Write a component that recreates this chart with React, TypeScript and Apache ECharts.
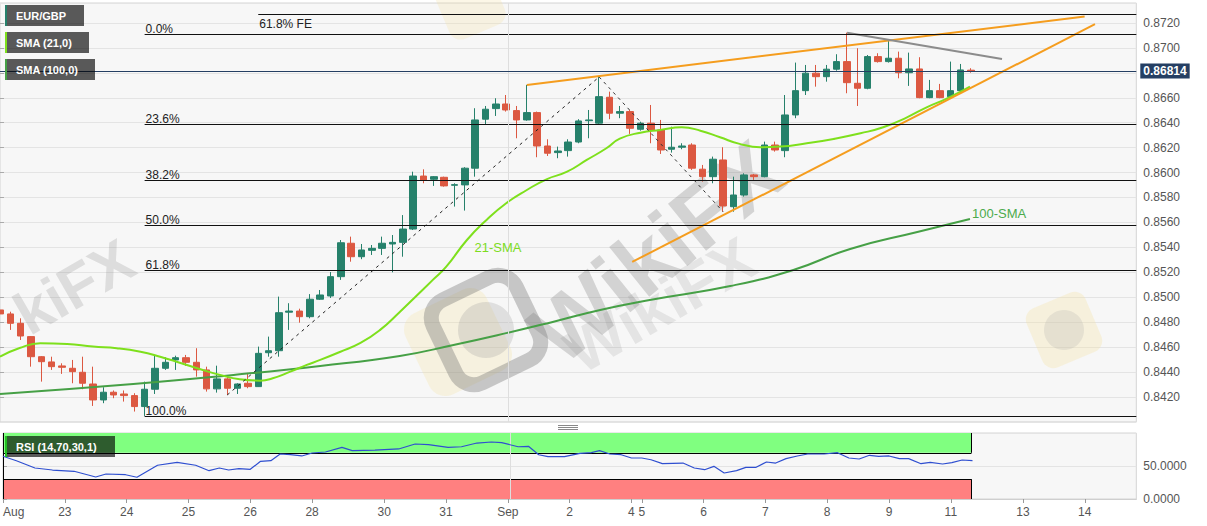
import React, { useEffect, useRef } from "react";
import * as echarts from "echarts";

// ---- data (4-hour candles, index 0 = 22 Aug) ----
const candleOpen = [
  0.84898, 0.84866, 0.84791, 0.84684, 0.84523, 0.84481, 0.84449, 0.8443, 0.84398, 0.84304,
  0.84176, 0.84238, 0.84224, 0.84211, 0.84123, 0.84262, 0.8443, 0.84497, 0.84515, 0.84478,
  0.84417, 0.84265, 0.84345, 0.8427, 0.8431, 0.84283, 0.84555, 0.84571, 0.8488, 0.84889,
  0.84844, 0.84984, 0.8501, 0.85165, 0.85433, 0.85325, 0.85376, 0.85392, 0.85427, 0.8544,
  0.85547, 0.85972, 0.85946, 0.85962, 0.85898, 0.85901, 0.86035, 0.86428, 0.86513, 0.8655,
  0.86497, 0.86422, 0.86481, 0.86213, 0.8616, 0.86176, 0.86245, 0.86416, 0.86396, 0.86604,
  0.86476, 0.86489, 0.86347, 0.86396, 0.86342, 0.86187, 0.86203, 0.86221, 0.86027, 0.85967,
  0.86101, 0.85726, 0.8582, 0.85981, 0.85967, 0.86221, 0.86176, 0.86462, 0.86657, 0.86797,
  0.86769, 0.86829, 0.8689, 0.86716, 0.86676, 0.8693, 0.8689, 0.86917, 0.86801, 0.86831,
  0.86601, 0.86657, 0.86609, 0.86657, 0.86821,
];
const candleClose = [
  0.84866, 0.84791, 0.84689, 0.84523, 0.84483, 0.84443, 0.84438, 0.84403, 0.8431, 0.84176,
  0.84238, 0.84216, 0.84211, 0.84123, 0.84262, 0.8443, 0.84478, 0.84515, 0.84478, 0.84417,
  0.84265, 0.84345, 0.8427, 0.84304, 0.84283, 0.8455, 0.84571, 0.84876, 0.84889, 0.84844,
  0.84984, 0.85018, 0.85165, 0.85437, 0.85325, 0.85379, 0.85392, 0.85433, 0.8544, 0.85547,
  0.85972, 0.8594, 0.85967, 0.85893, 0.85903, 0.86035, 0.86422, 0.86508, 0.8655, 0.86502,
  0.86422, 0.86481, 0.86213, 0.86155, 0.86173, 0.86245, 0.86414, 0.86422, 0.86609, 0.86476,
  0.86489, 0.86355, 0.86396, 0.86342, 0.86181, 0.86203, 0.86213, 0.86035, 0.85967, 0.86107,
  0.85732, 0.8582, 0.85981, 0.85967, 0.86221, 0.86181, 0.86462, 0.86657, 0.86797, 0.86769,
  0.86829, 0.8689, 0.86721, 0.86676, 0.8693, 0.8689, 0.86917, 0.86801, 0.86831, 0.86601,
  0.86657, 0.86601, 0.86657, 0.86823, 0.86814,
];
const candleLow = [
  0.84834, 0.84738, 0.84657, 0.84443, 0.84323, 0.84417, 0.84385, 0.8431, 0.84262, 0.84128,
  0.8415, 0.8419, 0.84163, 0.84083, 0.84048, 0.84224, 0.84417, 0.84417, 0.84449, 0.84363,
  0.84243, 0.84235, 0.84216, 0.84224, 0.8427, 0.8428, 0.84523, 0.84523, 0.84738, 0.84796,
  0.84831, 0.84978, 0.84994, 0.85139, 0.85285, 0.85305, 0.85339, 0.85339, 0.852, 0.85325,
  0.85539, 0.85914, 0.85893, 0.85887, 0.85727, 0.85695, 0.85967, 0.86382, 0.86454, 0.86489,
  0.86275, 0.86416, 0.86123, 0.86133, 0.86115, 0.86128, 0.86235, 0.86275, 0.86382, 0.86428,
  0.86436, 0.8631, 0.86336, 0.86235, 0.86149, 0.8616, 0.86187, 0.86021, 0.85927, 0.85914,
  0.85686, 0.85686, 0.85807, 0.85941, 0.85962, 0.86168, 0.86123, 0.86436, 0.86622, 0.86689,
  0.86729, 0.86817, 0.86636, 0.86534, 0.86668, 0.86882, 0.86882, 0.86756, 0.86695, 0.86596,
  0.86596, 0.86596, 0.86596, 0.86636, 0.86801,
];
const candleHigh = [
  0.8493, 0.84884, 0.84831, 0.84689, 0.84528, 0.84523, 0.8447, 0.84497, 0.84523, 0.84443,
  0.84278, 0.84252, 0.84252, 0.8423, 0.84323, 0.84537, 0.84518, 0.84531, 0.84537, 0.84591,
  0.84443, 0.84451, 0.84363, 0.8431, 0.84388, 0.84604, 0.84684, 0.85005, 0.84952, 0.84908,
  0.85025, 0.85058, 0.85202, 0.85459, 0.85486, 0.85427, 0.85419, 0.85486, 0.85499, 0.85659,
  0.86007, 0.86026, 0.85972, 0.85967, 0.85914, 0.86043, 0.86516, 0.86534, 0.86596, 0.86622,
  0.86534, 0.86703, 0.86489, 0.86267, 0.86208, 0.86267, 0.86428, 0.86502, 0.86767, 0.86649,
  0.86534, 0.86502, 0.86408, 0.86542, 0.86422, 0.86368, 0.86235, 0.86235, 0.86061, 0.86128,
  0.86203, 0.85967, 0.85994, 0.85989, 0.86248, 0.86248, 0.86622, 0.86882, 0.86863, 0.86863,
  0.86863, 0.86949, 0.87122, 0.86997, 0.86943, 0.86957, 0.87064, 0.8697, 0.86962, 0.86925,
  0.86743, 0.86711, 0.8689, 0.86871, 0.86837,
];

const sma21 = [
  [0, 0.84523], [1.9, 0.84593], [3.9, 0.84631], [6.5, 0.84625], [9, 0.84604], [11.3, 0.84591],
  [13.6, 0.84563], [15.5, 0.84523], [17.4, 0.84475], [19.4, 0.84422], [21.3, 0.84377],
  [23.2, 0.84342], [25.2, 0.84331], [26.4, 0.8435], [28.1, 0.84403], [29.7, 0.84457],
  [31, 0.84497], [32.9, 0.84561], [34.9, 0.84633], [36.8, 0.84738], [38.7, 0.84882],
  [40.2, 0.85002], [41.9, 0.85139], [43.2, 0.85245], [45.2, 0.85459], [47.1, 0.8562],
  [49, 0.85754], [51, 0.8586], [52.9, 0.85946], [54.9, 0.86007], [56.8, 0.86101],
  [58.7, 0.86195], [60, 0.86272], [62, 0.8632], [63.9, 0.86342], [66, 0.86363],
  [67.8, 0.86336], [69.7, 0.86283], [71.6, 0.8623], [73.6, 0.86203], [75.5, 0.86208],
  [78.1, 0.86235], [80.7, 0.8627], [83.3, 0.86315], [85.5, 0.86363], [87.8, 0.86443],
  [89.7, 0.86523], [91.6, 0.86591], [93.9, 0.86689],
];
const sma100 = [
  [0, 0.84224], [12.9, 0.84304], [22.6, 0.84377], [31, 0.84449], [38.7, 0.84529],
  [43.9, 0.84617], [49.1, 0.84714], [53.5, 0.84802], [58.1, 0.84898], [62.9, 0.84978],
  [70.7, 0.8509], [76.8, 0.85219], [82.3, 0.85387], [88.8, 0.85523], [93.9, 0.85627],
];
const rsi = [
  [0, 64.7], [1.3, 58.0], [3.1, 47.0], [4.8, 43.9], [6.9, 42.0], [9, 33.3], [10, 37.9],
  [11.9, 36.8], [13, 32.9], [15, 51.1], [16.9, 55.6], [18.7, 51.1], [20, 42.9], [21, 47.0],
  [21.9, 43.9], [22.9, 45.9], [24, 45.0], [25, 57.1], [26, 58.0], [26.9, 68.2], [27.9, 67.1],
  [29, 65.2], [30, 69.7], [31.3, 71.2], [32.9, 78.3], [33.9, 73.2], [36.1, 74.2], [38.4, 75.8],
  [40, 83.3], [41.3, 82.3], [43.2, 78.3], [44.5, 79.2], [46, 84.8], [47.4, 86.4], [48.4, 85.3],
  [50, 79.2], [51, 79.8], [52, 67.1], [52.9, 64.1], [54.5, 64.1], [56, 69.2], [57.1, 70.2],
  [57.9, 73.2], [58.9, 68.2], [60, 67.1], [61, 62.1], [62, 62.1], [62.9, 59.5], [64, 53.5],
  [66, 54.5], [67.1, 47.0], [68.1, 44.4], [69, 49.5], [70, 39.4], [71.2, 42.9], [72.1, 48.0],
  [73.1, 48.0], [74.1, 56.1], [75, 54.5], [76, 61.1], [77.1, 65.2], [78.1, 68.2], [79.7, 68.2],
  [81, 70.2], [82.1, 62.1], [83.1, 60.6], [84.1, 66.2], [85, 64.7], [86, 65.2], [87, 61.1],
  [87.9, 61.1], [89.1, 53.5], [90, 55.6], [91.2, 53.0], [92.1, 55.0], [93.1, 59.1], [94.1, 58.0],
];

const dayTicks = [0, 6, 12, 18, 24, 30, 37, 43, 49, 55, 61, 62, 68, 74, 80, 86, 92, 99, 105];
const dayLabels = ["Aug", "23", "24", "25", "26", "28", "30", "31", "Sep", "2", "4", "5", "6", "7", "8", "9", "11", "13", "14"];

const fibLevels = [0.87109, 0.86387, 0.8594, 0.85579, 0.85217, 0.84048];
const fibNames = ["0.0%", "23.6%", "38.2%", "50.0%", "61.8%", "100.0%"];
const fibStart = 14;
const fibExtLevel = 0.8727;
const fibExtName = "61.8% FE";
const fibExtStart = 25;
const lastPrice = 0.86814;
const hiddenPriceTick = 0.868; // covered by the last-price tag in the reference
const monthStart = 49.2;

const upperChannel = [[51, 0.86703], [105, 0.87251]];
const lowerChannel = [[61.2, 0.85283], [106, 0.8719]];
const resistanceLine = [[82, 0.87122], [97, 0.86911]];
const swingUp = [[22, 0.84216], [58, 0.86767]];
const swingDown = [[58, 0.86767], [70, 0.85686]];

const rsiOverbought = 70;
const rsiOversold = 30;
const rsiEnd = 94;

const FONT = '"Liberation Sans", Arial, Helvetica, sans-serif';
const X_MAX = 110;
const PLOT_W = 1136.3;

export default function App() {
  const ref = useRef<HTMLDivElement>(null);

  useEffect(() => {
    if (!ref.current) return;
    const chart = echarts.init(ref.current, null, { renderer: "svg" });

    const candles = candleOpen.map((o, k) => [k, o, candleClose[k], candleLow[k], candleHigh[k]]);

    const fibMarks: any[] = fibLevels.map((lvl, i) => [
      {
        coord: [fibStart, lvl],
        lineStyle: { color: "#111", width: 1, type: "solid" },
        label: {
          show: true,
          position: "insideStartTop",
          formatter: fibNames[i],
          color: "#222",
          fontSize: 12,
          fontFamily: FONT,
          distance: [1, -1],
        },
      },
      { coord: [X_MAX, lvl] },
    ]);
    fibMarks.push([
      {
        coord: [fibExtStart, fibExtLevel],
        lineStyle: { color: "#111", width: 1, type: "solid" },
        label: {
          show: true,
          position: "insideStartBottom",
          formatter: fibExtName,
          color: "#222",
          fontSize: 12,
          fontFamily: FONT,
          distance: [1, 4],
        },
      },
      { coord: [X_MAX, fibExtLevel] },
    ]);
    fibMarks.push({
      xAxis: monthStart,
      lineStyle: { color: "#dedede", width: 1, type: "solid" },
      label: { show: false },
    });
    fibMarks.push([
      {
        coord: [0, lastPrice],
        lineStyle: { color: "#253f63", width: 1, type: "solid" },
        label: {
          show: true,
          position: "end",
          formatter: lastPrice.toFixed(5),
          color: "#fff",
          backgroundColor: "#253f63",
          fontWeight: "bold",
          fontSize: 12,
          fontFamily: FONT,
          padding: [2, 3, 1, 3],
          distance: 4,
        },
      },
      { coord: [X_MAX, lastPrice] },
    ]);

    const blk = { color: "#000", width: 1, type: "solid" };
    const rsiMarks: any[] = [
      [{ coord: [0, rsiOverbought], lineStyle: blk }, { coord: [rsiEnd, rsiOverbought] }],
      [{ coord: [0, rsiOversold], lineStyle: blk }, { coord: [rsiEnd, rsiOversold] }],
      [{ coord: [rsiEnd, rsiOverbought], lineStyle: blk }, { coord: [rsiEnd, 100] }],
      [{ coord: [rsiEnd, 0], lineStyle: blk }, { coord: [rsiEnd, rsiOversold] }],
      [{ coord: [0.05, 0], lineStyle: blk }, { coord: [0.05, 100] }],
      { xAxis: monthStart, lineStyle: { color: "#dedede", width: 1, type: "solid" } },
    ];

    const lineSeries = (data: number[][], color: string, width: number, extra: any = {}) => ({
      type: "line",
      xAxisIndex: 0,
      yAxisIndex: 0,
      data,
      showSymbol: false,
      symbol: "none",
      silent: true,
      z: 4,
      lineStyle: { color, width, ...extra.lineStyle },
      smooth: extra.smooth ?? false,
    });

    const wm = (text: string, x: number, y: number, size: number, rot: number, alpha: number) => ({
      type: "text",
      x,
      y,
      rotation: (rot * Math.PI) / 180,
      z: 1,
      silent: true,
      style: {
        text,
        fill: `rgba(120,120,120,${alpha})`,
        fontSize: size,
        fontWeight: "bold",
        fontFamily: FONT,
        align: "center",
        verticalAlign: "middle",
      },
    });

    const legendBox = (label: string, y: number, w: number, accent: string) => [
      { type: "rect", z: 100, silent: true, shape: { x: 5, y, width: w, height: 21 }, style: { fill: "rgba(0,0,0,0.64)" } },
      { type: "rect", z: 101, silent: true, shape: { x: 5, y, width: 2, height: 21 }, style: { fill: accent } },
      {
        type: "text",
        z: 102,
        silent: true,
        x: 16,
        y: y + 11,
        style: { text: label, fill: "#fff", fontSize: 11, fontWeight: "bold", fontFamily: FONT, verticalAlign: "middle" },
      },
    ];

    const option: any = {
      animation: false,
      backgroundColor: "#ffffff",
      textStyle: { fontFamily: FONT },
      grid: [
        { left: 0, top: 3, width: PLOT_W, height: 418.9, show: true, backgroundColor: "#f7f7f7", borderColor: "#d4d4d4", borderWidth: 1 },
        { left: 0, top: 433, width: PLOT_W, height: 66, show: true, backgroundColor: "#f7f7f7", borderColor: "#d4d4d4", borderWidth: 1 },
      ],
      xAxis: [
        {
          type: "value", gridIndex: 0, min: 0, max: X_MAX,
          axisLine: { show: false }, axisTick: { show: false }, axisLabel: { show: false }, splitLine: { show: false },
        },
        {
          type: "value", gridIndex: 1, min: 0, max: X_MAX,
          axisLine: { show: true, lineStyle: { color: "#cfcfcf" } },
          axisTick: { show: true, customValues: dayTicks, length: 4, lineStyle: { color: "#999" } },
          axisLabel: {
            customValues: dayTicks,
            alignMinLabel: "left",
            formatter: (v: number) => {
              const i = dayTicks.findIndex((t) => Math.abs(t - v) < 1e-6);
              return i >= 0 ? dayLabels[i] : "";
            },
            color: "#555",
            fontSize: 12,
            fontFamily: FONT,
            margin: 7,
          },
          splitLine: { show: false },
        },
      ],
      yAxis: [
        {
          type: "value", gridIndex: 0, position: "right", min: 0.84, max: 0.8736, interval: 0.002,
          axisLine: { show: false },
          axisTick: { show: true, length: 4, lineStyle: { color: "#aaa" } },
          axisLabel: {
            formatter: (v: number) => (Math.abs(v - hiddenPriceTick) < 1e-7 ? "" : v.toFixed(4)),
            color: "#555", fontSize: 12, fontFamily: FONT,
            showMinLabel: false, showMaxLabel: false, margin: 7,
          },
          splitLine: { show: true, lineStyle: { color: "#e4e4e4" } },
        },
        {
          type: "value", gridIndex: 1, position: "right", min: 0, max: 100, interval: 50,
          axisLine: { show: false },
          axisTick: { show: true, length: 4, lineStyle: { color: "#aaa" } },
          axisLabel: {
            formatter: (v: number) => v.toFixed(4), color: "#555", fontSize: 12, fontFamily: FONT,
            showMaxLabel: false, margin: 7,
          },
          splitLine: { show: true, lineStyle: { color: "#e4e4e4" } },
        },
      ],
      series: [
        {
          type: "candlestick",
          xAxisIndex: 0,
          yAxisIndex: 0,
          data: candles,
          barWidth: 7,
          z: 3,
          silent: true,
          itemStyle: {
            color: "#26816b",
            color0: "#dc5841",
            borderColor: "#26816b",
            borderColor0: "#dc5841",
            borderWidth: 1,
          },
          markLine: { symbol: ["none", "none"], silent: true, data: fibMarks },
        },
        lineSeries(sma100, "#46a046", 2, { smooth: true }),
        lineSeries(sma21, "#7ee01c", 2, { smooth: true }),
        lineSeries(upperChannel, "#f59d1e", 2),
        lineSeries(lowerChannel, "#f59d1e", 2),
        lineSeries(resistanceLine, "#8c8c8c", 2),
        lineSeries(swingUp, "#222", 1, { lineStyle: { type: [3, 4] } }),
        lineSeries(swingDown, "#333", 1, { lineStyle: { type: [3, 4] } }),
        {
          type: "line",
          xAxisIndex: 1,
          yAxisIndex: 1,
          data: rsi,
          showSymbol: false,
          symbol: "none",
          silent: true,
          z: 5,
          lineStyle: { color: "#2f4fd0", width: 1.2 },
          markArea: {
            silent: true,
            data: [
              [{ coord: [0, rsiOverbought], itemStyle: { color: "#80ff80", opacity: 1 } }, { coord: [rsiEnd, 100] }],
              [{ coord: [0, 0], itemStyle: { color: "#ff8080", opacity: 1 } }, { coord: [rsiEnd, rsiOversold] }],
            ],
          },
          markLine: { symbol: ["none", "none"], silent: true, label: { show: false }, data: rsiMarks },
        },
      ],
      graphic: [
        // watermark
        {
          type: "rect", z: 1, silent: true, x: 458, y: 342, rotation: 0.45,
          shape: { x: -45, y: -45, width: 90, height: 90, r: 18 },
          style: { fill: "rgba(245,225,160,0.28)" },
        },
        {
          type: "rect", z: 1, silent: true, x: 486, y: 330, rotation: 0.45,
          shape: { x: -46, y: -46, width: 92, height: 92, r: 20 },
          style: { fill: "none", stroke: "rgba(110,110,110,0.36)", lineWidth: 15 },
        },
        {
          type: "circle", z: 1, silent: true, shape: { cx: 486, cy: 330, r: 28 },
          style: { fill: "rgba(150,150,150,0.25)" },
        },
        wm("WikiFX", 656, 252, 88, 39, 0.28),
        wm("WikiFX", 660, 305, 62, 30, 0.15),
        wm("kiFX", 74, 287, 60, 30, 0.2),
        {
          type: "rect", z: 1, silent: true, x: 470, y: 4, rotation: 0.4,
          shape: { x: -30, y: -30, width: 60, height: 60, r: 12 },
          style: { fill: "rgba(245,225,160,0.25)" },
        },
        {
          type: "rect", z: 1, silent: true, x: 1064, y: 330, rotation: 0.4,
          shape: { x: -32, y: -32, width: 64, height: 64, r: 12 },
          style: { fill: "rgba(245,225,160,0.3)" },
        },
        {
          type: "circle", z: 1, silent: true, shape: { cx: 1064, cy: 330, r: 20 },
          style: { fill: "rgba(170,170,170,0.22)" },
        },
        // annotations
        {
          type: "text", z: 20, silent: true, x: 498, y: 247,
          style: { text: "21-SMA", fill: "#7ddc1f", fontSize: 13, fontFamily: FONT, align: "center", verticalAlign: "middle" },
        },
        {
          type: "text", z: 20, silent: true, x: 972, y: 213,
          style: { text: "100-SMA", fill: "#4cab4c", fontSize: 13, fontFamily: FONT, align: "left", verticalAlign: "middle" },
        },
        // panel separator handle
        { type: "line", z: 20, silent: true, shape: { x1: 558, y1: 425.5, x2: 578, y2: 425.5 }, style: { stroke: "#888", lineWidth: 1 } },
        { type: "line", z: 20, silent: true, shape: { x1: 558, y1: 427.5, x2: 578, y2: 427.5 }, style: { stroke: "#888", lineWidth: 1 } },
        { type: "line", z: 20, silent: true, shape: { x1: 558, y1: 429.5, x2: 578, y2: 429.5 }, style: { stroke: "#888", lineWidth: 1 } },
        // legends
        ...legendBox("EUR/GBP", 5, 79, "#26816b"),
        ...legendBox("SMA (21,0)", 32, 84, "#7ee01c"),
        ...legendBox("SMA (100,0)", 59, 90, "#46a046"),
        ...legendBox("RSI (14,70,30,1)", 436, 110, "#22c022"),
      ],
    };

    chart.setOption(option);
    return () => chart.dispose();
  }, []);

  return (
    <div
      ref={ref}
      style={{ position: "absolute", left: 0, top: 0, width: 1207, height: 526, background: "#fff" }}
    />
  );
}
